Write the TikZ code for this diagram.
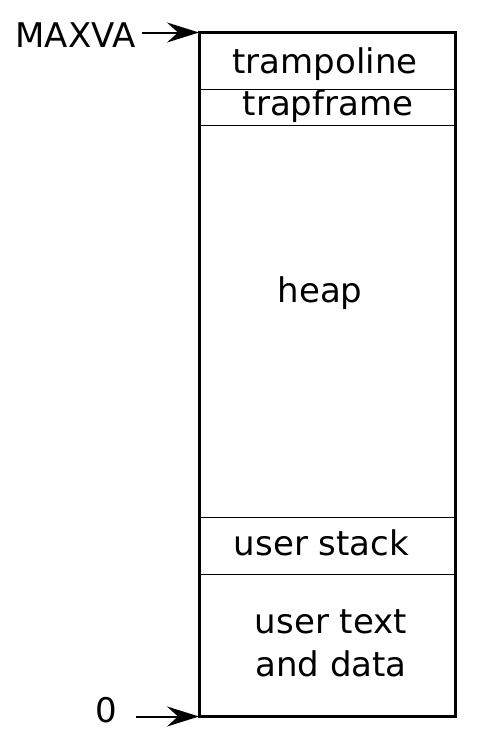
\documentclass[tikz,border=0pt]{standalone}
\usepackage{fontspec}
\setmainfont{DejaVu Sans}
\usetikzlibrary{arrows.meta}
\tikzset{
  region/.style={inner sep=0pt, anchor=base, font=\fontsize{34}{43}\selectfont},
  pointer/.style={line width=2pt, -{Stealth[length=32pt, width=20pt, inset=11pt]}}
}
\begin{document}
\begin{tikzpicture}[x=1pt, y=-1pt]
				\useasboundingbox (0,0) rectangle (492,742);
				% Box
				\node[draw, line width=3pt, inner sep=0pt, outer sep=0pt, anchor=north west,
				      minimum width=256pt, minimum height=684pt] (mem) at (199,32.5) {};
				% Dividers
				\foreach \y in {89,125,517,574}
				{\draw[line width=1pt] (mem.west |- 0,\y) -- (mem.east |- 0,\y);}
				% Regions
				\node[region] (tramp) at (325,73) {trampoline};
				\node[region] (trap) at (328,115) {trapframe};
				\node[region] (heap) at (320,302) {heap};
				\node[region] (ustack) at (321.5,555) {user stack};
				\node[region, align=center, anchor=center] (utext) at (331,643) {user text\\and data};
				% Pointers
				\node[region, anchor=base east] (maxva) at (136,47) {MAXVA};
				\node[region, anchor=base east] (zero) at (117,722) {0};
				\draw[pointer] (maxva.east |- mem.north west) ++(6,0) coordinate (m0) -- (mem.north west);
				\draw[pointer] (zero.east |- mem.south west) ++(19,0) coordinate (z0) -- (mem.south west);
			\end{tikzpicture}
\end{document}
